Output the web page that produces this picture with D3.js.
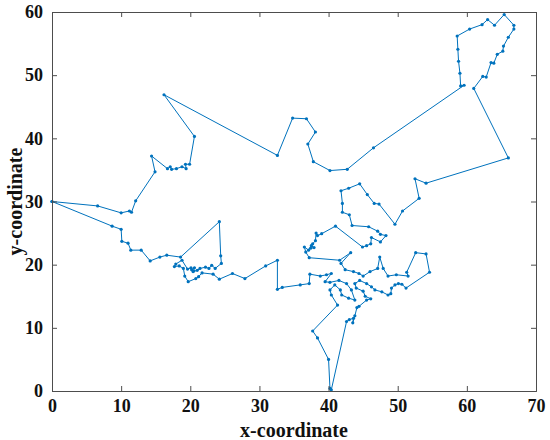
<!DOCTYPE html>
<html><head><meta charset="utf-8">
<script src="https://cdn.jsdelivr.net/npm/d3@7"></script>
<style>body{margin:0;background:#fff}svg{display:block}
text{font-family:"Liberation Serif","Times New Roman",serif !important;font-weight:bold}</style>
</head><body>
<script>
// Tour order (x, y)
const tourX = [0,6.6,10.0,11.2,11.5,12.1,14.9,14.4,16.7,17.1,17.3,18.0,18.8,19.4,19.3,19.9,20.6,16.2,
32.6,34.8,36.8,38.1,37.0,37.8,40.2,42.7,46.5,
59.6,59.1,59.0,58.8,58.7,58.6,60.4,62.2,63.0,64.0,65.4,66.8,66.8,66.0,65.3,65.2,64.4,63.9,63.5,62.8,62.3,61.0,
66.0,54.1,52.5,53.1,50.7,49.6,47.3,46.6,45.6,44.5,42.9,41.8,42.0,42.0,43.0,43.4,45.8,47.1,47.5,48.3,47.5,46.2,46.1,45.5,44.9,
41.0,39.0,38.4,38.2,38.1,37.7,37.4,37.9,37.5,37.1,36.5,36.7,37.2,
41.6,43.2,41.8,42.4,43.6,44.4,45.0,46.0,47.1,47.4,47.9,48.6,49.8,51.5,51.3,52.6,54.1,54.6,
51.2,50.6,50.1,49.6,49.1,49.0,48.6,47.7,46.7,46.2,45.5,44.5,43.8,44.0,45.0,45.3,46.1,45.5,44.4,44.1,43.8,43.5,43.6,43.0,42.6,
40.4,40.2,40.0,38.4,37.7,41.3,40.4,40.2,40.9,41.7,41.9,42.9,43.8,43.3,42.6,41.5,40.2,39.5,40.4,39.7,38.8,37.3,37.2,35.9,
33.3,32.6,32.6,30.9,27.9,26.1,24.2,23.3,21.7,21.2,20.8,19.7,19.2,19.0,18.4,17.7,17.9,18.8,19.6,20.1,20.5,20.2,20.6,20.4,21.0,21.4,22.2,22.7,23.1,23.6,24.5,24.4,24.2,
18.6,16.6,15.6,14.2,12.9,11.4,11.0,10.1,10.0,8.7,0];
const tourY = [30.0,29.3,28.2,28.5,28.3,30.1,34.7,37.2,35.2,35.5,35.1,35.2,35.5,35.2,35.9,35.9,40.3,46.9,
37.3,43.2,43.1,41.0,39.1,36.3,34.9,35.1,38.5,
48.4,48.3,50.3,52.2,54.1,56.2,57.3,58.0,58.8,57.9,59.6,57.9,57.3,56.0,54.6,53.8,53.3,51.9,52.0,49.7,49.8,47.9,
36.9,32.9,33.6,30.5,28.5,26.4,29.6,29.7,31.1,32.8,32.1,31.7,29.7,28.3,27.9,26.2,26.0,25.3,24.8,24.6,23.6,24.3,23.3,23.0,22.8,
26.1,24.9,24.6,25.0,23.8,23.3,22.6,22.7,23.0,22.3,22.8,22.0,21.1,
20.7,21.9,20.2,19.2,18.9,18.6,18.2,18.9,19.4,21.2,19.4,18.2,18.4,18.2,18.8,21.9,21.7,18.8,
16.3,16.9,17.0,16.8,16.3,15.4,15.2,15.7,16.0,16.5,17.0,17.5,17.0,16.3,15.8,15.0,14.6,14.4,13.4,13.2,11.9,10.8,11.5,11.3,11.0,
0.2,0.4,5.0,8.4,9.5,13.6,15.2,16.0,16.8,16.0,15.2,14.7,14.4,16.0,17.0,17.5,17.2,17.3,18.6,18.4,18.2,18.5,17.0,16.8,
16.4,16.1,20.7,19.8,17.8,18.6,17.7,18.5,18.7,18.1,17.8,17.3,18.2,19.4,19.8,19.7,20.1,20.7,19.3,19.5,19.0,19.2,19.5,18.9,19.1,19.4,19.6,19.4,19.9,19.4,20.2,21.4,26.8,
21.2,21.5,21.2,20.6,22.3,22.3,23.4,23.7,25.6,26.1,30.0];
const xTicks = [0,10,20,30,40,50,60,70];
const yTicks = [0,10,20,30,40,50,60];
const xLabel = "x-coordinate";
const yLabel = "y-coordinate";

const W = 550, H = 440;
const m = {left:52, right:14, top:12, bottom:49};
const svg = d3.select("body").append("svg").attr("width", W).attr("height", H);
const x = d3.scaleLinear().domain([0,70]).range([m.left, W - m.right]);
const y = d3.scaleLinear().domain([0,60]).range([H - m.bottom, m.top]);
const pts = tourX.map((v,i) => [v, tourY[i]]);
const col = "#0072BD";
const axCol = "#4d4d4d";

svg.append("path").datum(pts)
  .attr("fill","none").attr("stroke",col).attr("stroke-width",1)
  .attr("d", d3.line().x(d=>x(d[0])).y(d=>y(d[1])));
svg.append("g").selectAll("circle").data(pts).join("circle")
  .attr("cx", d=>x(d[0])).attr("cy", d=>y(d[1])).attr("r",1.6).attr("fill",col);

const tl = 5;
const gB = svg.append("g").attr("transform",`translate(0,${y(0)})`)
  .call(d3.axisBottom(x).tickValues(xTicks).tickSize(-tl).tickPadding(8).tickFormat(d3.format("d")));
const gT = svg.append("g").attr("transform",`translate(0,${y(60)})`)
  .call(d3.axisTop(x).tickValues(xTicks).tickSize(-tl).tickFormat(""));
const gL = svg.append("g").attr("transform",`translate(${x(0)},0)`)
  .call(d3.axisLeft(y).tickValues(yTicks).tickSize(-tl).tickPadding(9).tickFormat(d3.format("d")));
const gR = svg.append("g").attr("transform",`translate(${x(70)},0)`)
  .call(d3.axisRight(y).tickValues(yTicks).tickSize(-tl).tickFormat(""));
[gB,gT,gL,gR].forEach(g=>{
  g.select(".domain").attr("stroke",axCol).attr("stroke-width",1);
  g.selectAll(".tick line").attr("stroke",axCol);
  g.selectAll("text").attr("font-size",18).attr("fill","#111");
});

svg.append("text").attr("x", (x(0)+x(70))/2).attr("y", 437)
  .attr("text-anchor","middle").attr("font-size",20)
  .attr("fill","#111").text(xLabel);
svg.append("text").attr("transform",`translate(22,${(y(0)+y(60))/2}) rotate(-90)`)
  .attr("text-anchor","middle").attr("font-size",20)
  .attr("fill","#111").text(yLabel);
</script>
</body></html>
